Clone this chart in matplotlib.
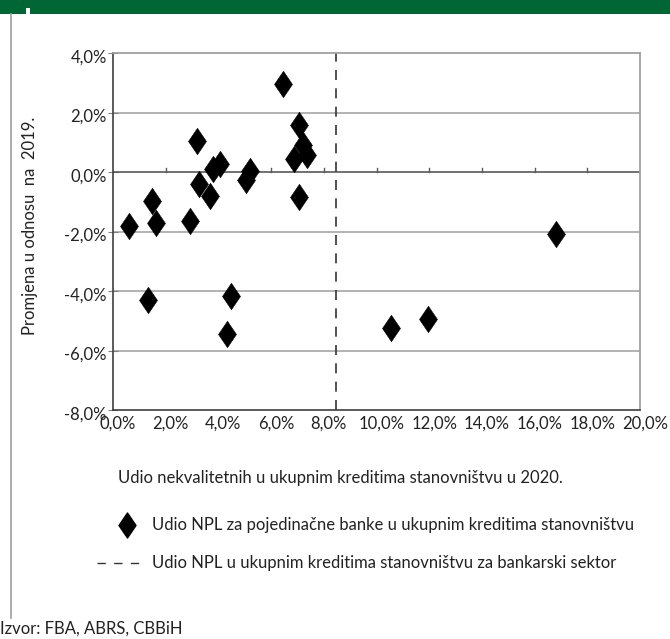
import matplotlib
matplotlib.use("Agg")
import matplotlib.pyplot as plt
from matplotlib.lines import Line2D
from matplotlib.path import Path
import matplotlib.transforms as mtransforms

# Data: share of NPL in household loans 2020 (x, %) vs change relative to 2019 (y, p.p.)
npl_share_2020 = [0.62, 1.49, 1.62, 2.92, 3.20, 3.25, 3.69, 3.78, 4.06, 5.04, 5.20,
                  6.45, 7.06, 6.88, 7.20, 7.37, 7.06, 1.33, 4.48, 4.33, 10.56, 11.95, 16.82]
change_vs_2019 = [-1.82, -0.99, -1.72, -1.66, 1.03, -0.41, -0.81, 0.10, 0.28, -0.28, 0.02,
                  2.95, 1.59, 0.43, 0.90, 0.58, -0.84, -4.31, -4.18, -5.46, -5.24, -4.94, -2.08]
sector_npl_share = 8.45

x_ticks = [0, 2, 4, 6, 8, 10, 12, 14, 16, 18, 20]
y_ticks = [-8, -6, -4, -2, 0, 2, 4]

plt.rcParams['font.family'] = ['Lato', 'DejaVu Sans']
FS = 12

diamond = Path([(0, 1), (0.68, 0), (0, -1), (-0.68, 0), (0, 1)],
               [Path.MOVETO, Path.LINETO, Path.LINETO, Path.LINETO, Path.CLOSEPOLY])

W, H = 670, 639
fig = plt.figure(figsize=(W / 100, H / 100), dpi=100)

# green header band
fig.patches.append(plt.Rectangle((0, 1 - 14 / H), 1, 14 / H, transform=fig.transFigure,
                                 facecolor='#006633', edgecolor='none'))
fig.patches.append(plt.Rectangle((26 / W, 1 - 14 / H), 4 / W, 6 / H, transform=fig.transFigure,
                                 facecolor='white', edgecolor='none'))
# left frame line
fig.add_artist(Line2D([10.5 / W, 10.5 / W], [1 - 14 / H, 1 - 618 / H], transform=fig.transFigure,
                      color='#a0a0a0', lw=1.2))

left, right, top, bottom = 113, 640, 53, 410
ax = fig.add_axes([left / W, 1 - bottom / H, (right - left) / W, (bottom - top) / H])

ax.set_xlim(0, 20)
ax.set_ylim(-8, 4)

for y in y_ticks:
    if y not in (0, -8, 4):
        ax.axhline(y, color='#a6a6a6', lw=1.2, zorder=1)
ax.axhline(0, color='#595959', lw=1.2, zorder=2)

ax.axvline(sector_npl_share, color='#333333', lw=1.2, ls=(0, (6, 5)), zorder=2)

ax.plot(npl_share_2020, change_vs_2019, ls='none', marker=diamond, ms=19, color='black',
        mec='black', mew=0.4, zorder=3)

for s in ['top', 'right']:
    ax.spines[s].set_color('#a0a0a0')
    ax.spines[s].set_linewidth(1.3)
ax.spines['left'].set_color('#404040')
ax.spines['bottom'].set_color('#404040')
ax.spines['left'].set_linewidth(1.2)
ax.spines['bottom'].set_linewidth(1.2)

ax.set_xticks(x_ticks)
ax.set_xticklabels([f"{v:.1f}%".replace('.', ',') for v in x_ticks])
ax.set_yticks(y_ticks)
ax.set_yticklabels([f"{v:.1f}%".replace('.', ',') for v in y_ticks])
ax.tick_params(axis='x', length=0, labelsize=FS, colors='#222222', pad=4)
ax.tick_params(axis='y', length=7, direction='inout', labelsize=FS, colors='#222222', pad=1)
ax.tick_params(axis='y', color='#808080')
offset = mtransforms.ScaledTranslation(5 / 100, 0, fig.dpi_scale_trans)
for lbl in ax.get_xticklabels():
    lbl.set_transform(lbl.get_transform() + offset)
yoff = mtransforms.ScaledTranslation(0, -3 / 100, fig.dpi_scale_trans)
for lbl in ax.get_yticklabels():
    lbl.set_transform(lbl.get_transform() + yoff)

# tick marks on the zero line
for xv in x_ticks[1:-1]:
    ax.plot([xv, xv], [0, 0.15], color='#595959', lw=1.0, zorder=2)

ax.set_ylabel("Promjena u odnosu  na  2019.", fontsize=FS, color='#222222')
ax.yaxis.set_label_coords((38 - left) / (right - left), (bottom - 226) / (bottom - top))

fig.text(118 / W, 1 - 478 / H, "Udio nekvalitetnih u ukupnim kreditima stanovništvu u 2020.",
         fontsize=FS, va='center', ha='left', color='#222222')

# legend
fig.add_artist(Line2D([127 / W], [1 - 525 / H], transform=fig.transFigure, marker=diamond, ms=18,
                      color='black', ls='none'))
fig.text(152 / W, 1 - 525 / H, "Udio NPL za pojedinačne banke u ukupnim kreditima stanovništvu",
         fontsize=FS, va='center', ha='left', color='#222222')
fig.add_artist(Line2D([97 / W, 143 / W], [1 - 563 / H, 1 - 563 / H], transform=fig.transFigure,
                      color='#333333', lw=1.0, ls=(0, (6, 6))))
fig.text(152 / W, 1 - 563 / H, "Udio NPL u ukupnim kreditima stanovništvu za bankarski sektor",
         fontsize=FS, va='center', ha='left', color='#222222')

fig.text(0 / W, 1 - 629 / H, "Izvor: FBA, ABRS, CBBiH", fontsize=FS, va='center', ha='left',
         color='#222222')

fig.savefig("out.png", dpi=100, facecolor='white')
